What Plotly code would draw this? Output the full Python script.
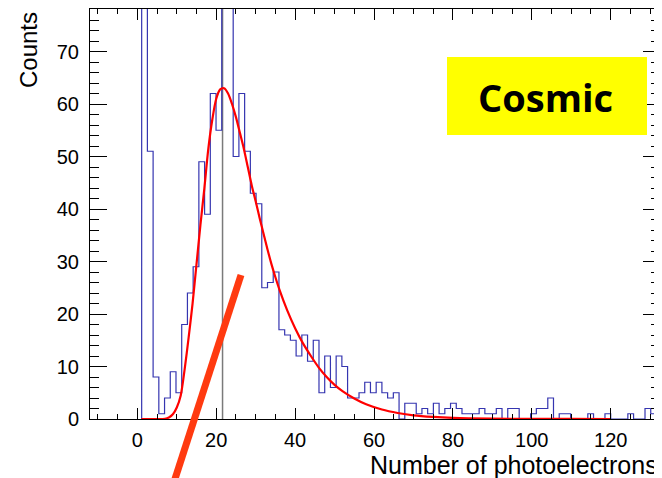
import plotly.graph_objects as go

# ---- histogram data (bin width in photoelectrons) ----
bin_start = 1.1
bin_width = 1.45
counts = [150, 51, 8, 1, 4, 9, 5, 18, 24, 29,
          49, 39, 62, 55, 95, 90, 50, 62, 51, 43,
          41, 25, 26, 28, 17, 16, 15, 12, 16, 11,
          15, 5, 12, 6, 12, 10, 4, 4, 5, 7,
          5, 7, 5, 4, 5, 0, 3, 3, 1, 2,
          1, 3, 1, 2, 3, 2, 1, 1, 1, 2,
          1, 1, 2, 0, 2, 2, 0, 0, 1, 2,
          2, 4, 0, 1, 1, 0, 0, 0, 1, 0,
          0, 1, 0, 0, 0, 1, 0, 0, 2, 1, 0]

# ---- fitted curve ----
fit_x = [1.0, 5.0, 7.0, 8.0, 9.0, 10.0, 11.0, 12.0, 13.0, 14.0, 15.0, 16.0,
         17.0, 18.0, 19.0, 20.0, 21.0, 22.0, 23.0, 24.0, 25.0, 26.0, 27.0,
         28.0, 29.0, 30.0, 31.0, 32.0, 33.0, 34.0, 35.0, 36.0, 38.0, 40.0,
         42.0, 44.0, 46.0, 48.0, 50.0, 52.0, 55.0, 58.0, 62.0, 66.0, 70.0,
         75.0, 80.0, 90.0, 100.0, 110.0, 120.0]
fit_y = [0.0, 0.0, 0.05, 0.3, 0.9, 2.2, 4.5, 9.5, 15.5, 22.0, 29.5, 37.0,
         44.0, 51.5, 57.0, 61.0, 62.8, 63.0, 62.0, 60.0, 57.5, 54.5, 51.5,
         48.0, 44.5, 41.5, 38.3, 35.3, 32.3, 29.5, 27.0, 24.7, 20.7, 17.3,
         14.4, 12.0, 9.8, 8.0, 6.5, 5.3, 3.9, 2.8, 1.8, 1.15, 0.7,
         0.4, 0.22, 0.07, 0.02, 0.005, 0.0]

peak_position = [21.6]

x_tickvals = [0, 20, 40, 60, 80, 100, 120]
y_tickvals = [0, 10, 20, 30, 40, 50, 60, 70]

x_range = [-12.0, 132.5]
y_range = [0, 78.1]

# ---- build step outline from the bins ----
edges = [bin_start + bin_width * k for k in range(len(counts) + 1)]
hx = [edges[0]] + edges + [edges[-1]]
hy = [0] + counts + [counts[-1]] + [0]

fig = go.Figure()

fig.add_trace(go.Scatter(
    x=[peak_position[0], peak_position[0]], y=y_range,
    mode="lines", line=dict(color="#7a7a7a", width=1.5),
    hoverinfo="skip", showlegend=False))

fig.add_trace(go.Scatter(
    x=hx, y=hy, mode="lines", line_shape="hv",
    line=dict(color="#3535b0", width=1.2), showlegend=False))

fig.add_trace(go.Scatter(
    x=fit_x, y=fit_y, mode="lines", line_shape="spline",
    line=dict(color="#ff0000", width=2.2, smoothing=0.8), showlegend=False))

# page has an 8px body margin: size the figure to fill the rest of the window
OFF = 8
W, H = 662 - OFF, 478 - OFF
ml, mr, mt, mb = 90 - OFF, 2, 9 - OFF, 59

fig.update_layout(
    width=W, height=H,
    margin=dict(l=ml, r=mr, t=mt, b=mb),
    paper_bgcolor="white", plot_bgcolor="white",
    font=dict(family="Liberation Sans, Arial, sans-serif", size=20, color="black"),
    showlegend=False,
)

fig.update_xaxes(
    range=x_range, tickvals=x_tickvals, ticktext=[str(v) for v in x_tickvals],
    ticks="inside", ticklen=11, tickwidth=1, tickcolor="black",
    minor=dict(dtick=5, tick0=0, ticks="inside", ticklen=5, tickcolor="black", tickwidth=1),
    showline=True, linecolor="black", linewidth=1, mirror="allticks",
    showgrid=False, zeroline=False, ticklabelstandoff=3,
    tickfont=dict(size=20),
)
fig.update_yaxes(
    range=y_range, tickvals=y_tickvals, ticktext=[str(v) for v in y_tickvals],
    ticks="inside", ticklen=17, tickwidth=1, tickcolor="black",
    minor=dict(dtick=2, tick0=0, ticks="inside", ticklen=9, tickcolor="black", tickwidth=1),
    showline=True, linecolor="black", linewidth=1, mirror="allticks",
    showgrid=False, zeroline=False, ticklabelstandoff=6,
    tickfont=dict(size=20),
)

# plot area in page pixels
PL, PR, PT, PB = 90, 660, 9, 419

def px2paper(px, py):
    return (px - PL) / (PR - PL), (PB - py) / (PB - PT)

# axis titles
ax, ay = px2paper(660, 465)
fig.add_annotation(text="Number of photoelectrons", xref="paper", yref="paper",
                   x=ax, y=ay, xanchor="right", yanchor="middle", showarrow=False,
                   font=dict(size=25))
cx, cy = px2paper(28, 10)
fig.add_annotation(text="Counts", xref="paper", yref="paper", textangle=-90,
                   x=cx, y=cy, xanchor="center", yanchor="top", showarrow=False,
                   font=dict(size=24))

# "Cosmic" label box
bx0, by0 = px2paper(447, 135)
bx1, by1 = px2paper(647, 57)
fig.add_shape(type="rect", xref="paper", yref="paper", x0=bx0, y0=by0, x1=bx1, y1=by1,
              fillcolor="#ffff00", line=dict(width=0), layer="above")
tx, ty = px2paper(545, 97)
fig.add_annotation(text="<b>Cosmic</b>", xref="paper", yref="paper", x=tx, y=ty,
                   xanchor="center", yanchor="middle", showarrow=False,
                   font=dict(family="Open Sans, sans-serif", size=38, color="black"))

# red pointer stroke
lx0, ly0 = px2paper(174, 482)
lx1, ly1 = px2paper(241, 275)
fig.add_shape(type="line", xref="paper", yref="paper", x0=lx0, y0=ly0, x1=lx1, y1=ly1,
              line=dict(color="#ff3a10", width=7), layer="above")

fig.write_html("out.html")
